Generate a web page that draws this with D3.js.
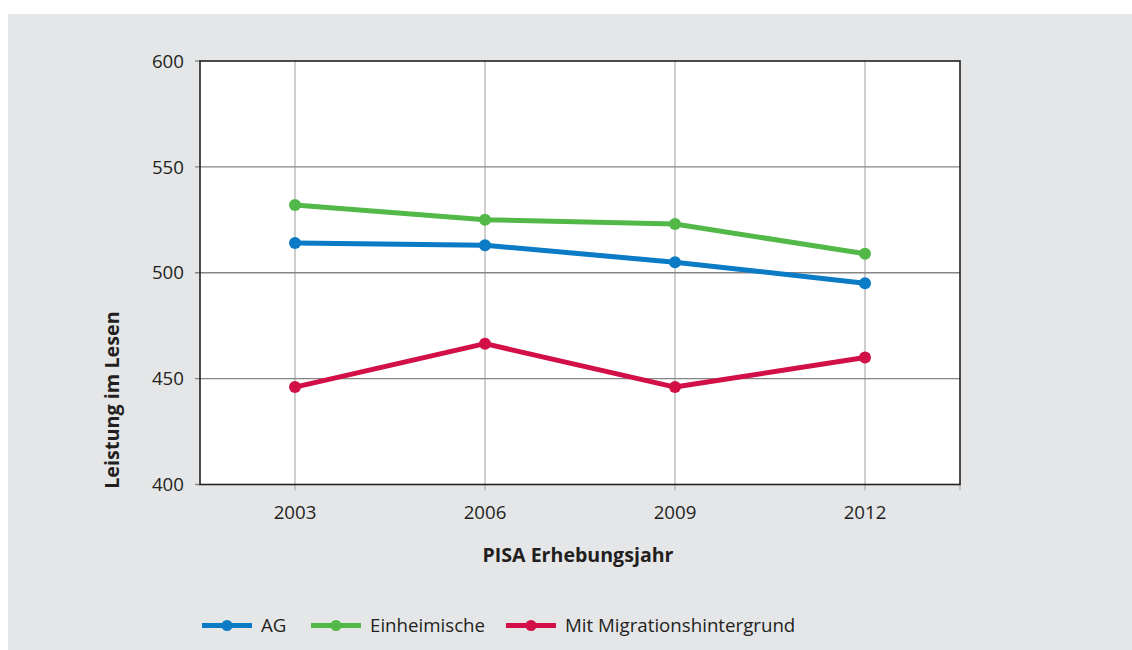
<!DOCTYPE html>
<html><head><meta charset="utf-8">
<script src="https://cdn.jsdelivr.net/npm/d3@7"></script>
<style>
html,body{margin:0;padding:0;background:#fff;}
svg{display:block;font-family:"Open Sans",sans-serif;}
</style></head>
<body>
<svg id="c" width="1132" height="650"></svg>
<script>
const years = ["2003","2006","2009","2012"];
const seriesNames = ["AG","Einheimische","Mit Migrationshintergrund"];
const agValues = [514, 513, 505, 495];
const einheimischeValues = [532, 525, 523, 509];
const migrationValues = [446, 466.5, 446, 460];
const yTicks = [400, 450, 500, 550, 600];
const colors = ["#0a7bc4", "#52b848", "#d20f46"];

const series = [agValues, einheimischeValues, migrationValues].map((v,i)=>({name:seriesNames[i], values:v, color:colors[i]}));

const svg = d3.select("#c");
svg.append("rect").attr("x",8).attr("y",14).attr("width",1124).attr("height",636).attr("fill","#e5e6e8");

const L=200, R=960, T=61, B=484.5;
const x = d3.scaleBand().domain(years).range([L,R]).padding(0);
const cx = d => x(d) + x.bandwidth()/2;
const y = d3.scaleLinear().domain([400,600]).range([B,T]);

svg.append("rect").attr("x",L).attr("y",T).attr("width",R-L).attr("height",B-T).attr("fill","#fff");

// vertical grid (extended as ticks)
svg.append("g").selectAll("line").data(years).join("line")
  .attr("x1",d=>cx(d)).attr("x2",d=>cx(d)).attr("y1",T).attr("y2",B+6)
  .attr("stroke","#b4b4b4").attr("stroke-width",1.3);
svg.append("line").attr("x1",R).attr("x2",R).attr("y1",B).attr("y2",B+6).attr("stroke","#b4b4b4").attr("stroke-width",1.3);

// horizontal grid
svg.append("g").selectAll("line").data(yTicks.slice(1,-1)).join("line")
  .attr("x1",L-5).attr("x2",R).attr("y1",d=>y(d)).attr("y2",d=>y(d))
  .attr("stroke","#858585").attr("stroke-width",1.4);
svg.append("g").selectAll("line").data([400,600]).join("line")
  .attr("x1",L-5).attr("x2",L).attr("y1",d=>y(d)).attr("y2",d=>y(d))
  .attr("stroke","#858585").attr("stroke-width",1.4);

// frame
svg.append("rect").attr("x",L).attr("y",T).attr("width",R-L).attr("height",B-T)
  .attr("fill","none").attr("stroke","#222").attr("stroke-width",1.6);

// y labels
svg.append("g").selectAll("text").data(yTicks).join("text")
  .attr("x",L-16).attr("y",d=>y(d)).attr("dy","0.36em").attr("text-anchor","end")
  .attr("font-size",18.7).attr("fill","#231f20").text(d=>d);
// x labels
svg.append("g").selectAll("text").data(years).join("text")
  .attr("x",d=>cx(d)).attr("y",519).attr("text-anchor","middle")
  .attr("font-size",18.7).attr("fill","#231f20").text(d=>d);

// axis titles
svg.append("text").attr("x",578).attr("y",562).attr("text-anchor","middle")
  .attr("font-size",19.6).attr("font-weight","bold").attr("fill","#231f20").text("PISA Erhebungsjahr");
svg.append("text").attr("transform","translate(119,400) rotate(-90)").attr("text-anchor","middle")
  .attr("font-size",19.8).attr("font-weight","bold").attr("fill","#231f20").text("Leistung im Lesen");

// lines
const line = d3.line().x((d,i)=>cx(years[i])).y(d=>y(d));
series.forEach(s=>{
  svg.append("path").attr("d",line(s.values)).attr("fill","none").attr("stroke",s.color)
    .attr("stroke-width",5).attr("stroke-linejoin","round");
  svg.append("g").selectAll("circle").data(s.values).join("circle")
    .attr("cx",(d,i)=>cx(years[i])).attr("cy",d=>y(d)).attr("r",6).attr("fill",s.color);
});

// legend
const legX = [202, 311, 506];
const ly = 625.5;
series.forEach((s,i)=>{
  const g = svg.append("g");
  g.append("line").attr("x1",legX[i]).attr("x2",legX[i]+50).attr("y1",ly).attr("y2",ly)
    .attr("stroke",s.color).attr("stroke-width",5);
  g.append("circle").attr("cx",legX[i]+25).attr("cy",ly).attr("r",5.5).attr("fill",s.color);
  g.append("text").attr("x",legX[i]+59).attr("y",632).attr("font-size",18.7).attr("fill","#231f20").text(s.name);
});
</script>
</body></html>
